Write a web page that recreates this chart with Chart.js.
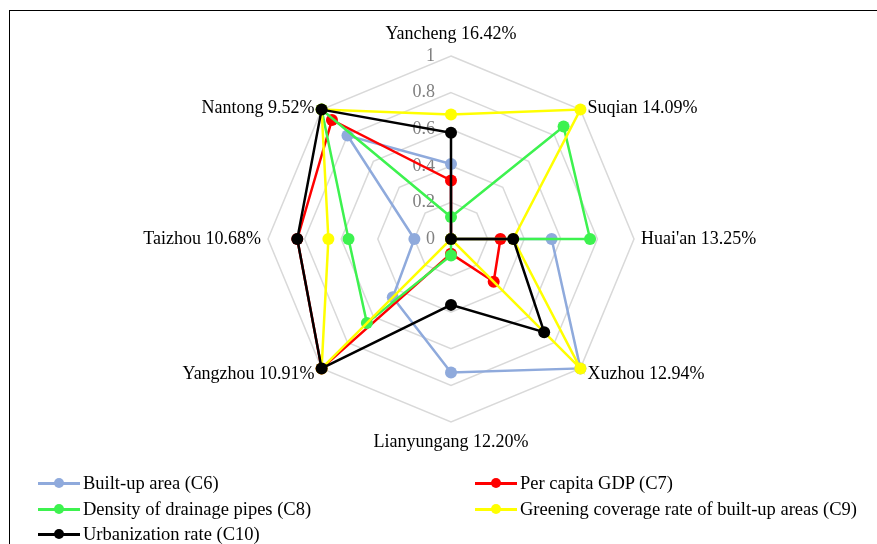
<!DOCTYPE html>
<html lang="en">
<head>
  <meta charset="UTF-8">
  <title>Radar of city indicators</title>
  <script src="https://cdn.jsdelivr.net/npm/chart.js"></script>
  <style>
    html, body { margin: 0; padding: 0; background: #fff; overflow: hidden; }
    body { width: 877px; height: 544px; position: relative; font-family: "Liberation Serif", serif; }
    .frame { position: absolute; left: 9px; top: 10px; width: 900px; height: 600px; border: 1.5px solid #000; }
    #chartBox { position: absolute; left: 0; top: 0; width: 877px; height: 544px; }
    .legend-item { position: absolute; height: 20px; line-height: 20px; font-size: 18.5px; color: #000; white-space: nowrap; }
    .legend-item .swatch { position: absolute; left: 0; top: 9px; width: 42px; height: 2.5px; }
    .legend-item .dot { position: absolute; left: 16px; top: 5px; width: 10px; height: 10px; border-radius: 50%; }
    .legend-item .txt { position: absolute; left: 45px; top: 0; }
  </style>
</head>
<body>
  <div class="frame"></div>
  <div id="chartBox"><canvas id="radar" width="877" height="544"></canvas></div>
  <div id="legend"></div>

  <script>
    // axes, clockwise from the top
    const cities = ['Yancheng 16.42%', 'Suqian 14.09%', "Huai'an 13.25%", 'Xuzhou 12.94%',
                    'Lianyungang 12.20%', 'Yangzhou 10.91%', 'Taizhou 10.68%', 'Nantong 9.52%'];
    const tickLabels = ['0', '0.2', '0.4', '0.6', '0.8', '1'];

    const builtUpArea  = [0.41, 0,    0.55, 1.00, 0.73, 0.45, 0.20, 0.80];
    const gdpPerCapita = [0.32, 0,    0.27, 0.33, 0.08, 1.00, 0.84, 0.92];
    const drainage     = [0.12, 0.87, 0.76, 0,    0.09, 0.65, 0.56, 1.00];
    const greening     = [0.68, 1.00, 0.34, 1.00, 0,    1.00, 0.67, 1.00];
    const urbanization = [0.58, 0,    0.34, 0.72, 0.36, 1.00, 0.84, 1.00];

    const seriesNames = ['Built-up area (C6)', 'Per capita GDP (C7)', 'Density of drainage pipes (C8)',
                         'Greening coverage rate of built-up areas (C9)', 'Urbanization rate (C10)'];
    const seriesColors = ['#8faadc', '#ff0000', '#3df24f', '#ffff00', '#000000'];
    const seriesData = [builtUpArea, gdpPerCapita, drainage, greening, urbanization];

    // tick numbers and city names drawn under the lines, like the original
    const labelPlugin = {
      id: 'labelPlugin',
      beforeDatasetsDraw(chart) {
        const s = chart.scales.r;
        const ctx = chart.ctx;
        ctx.save();
        ctx.font = '18px "Liberation Serif"';
        ctx.fillStyle = '#808080';
        ctx.textAlign = 'right';
        ctx.textBaseline = 'middle';
        tickLabels.forEach(t => {
          const d = s.getDistanceFromCenterForValue(parseFloat(t));
          ctx.fillText(t, s.xCenter - 16, s.yCenter - d);
        });

        ctx.fillStyle = '#000';
        ctx.font = '18px "Liberation Serif"';
        cities.forEach((c, i) => {
          const p = s.getPointPosition(i, s.drawingArea);
          const dx = p.x - s.xCenter, dy = p.y - s.yCenter;
          if (Math.abs(dx) < 1) {
            ctx.textAlign = 'center';
            ctx.textBaseline = 'alphabetic';
            ctx.fillText(c, p.x, dy < 0 ? p.y - 17 : p.y + 25);
          } else {
            ctx.textAlign = dx > 0 ? 'left' : 'right';
            ctx.textBaseline = 'middle';
            const y = Math.abs(dy) < 1 ? p.y : (dy < 0 ? p.y - 1 : p.y + 6);
            ctx.fillText(c, p.x + (dx > 0 ? 7 : -7), y);
          }
        });
        ctx.restore();
      }
    };

    const ctx = document.getElementById('radar').getContext('2d');
    new Chart(ctx, {
      type: 'radar',
      data: {
        labels: cities,
        datasets: seriesData.map((d, i) => ({
          label: seriesNames[i],
          data: d,
          borderColor: seriesColors[i],
          backgroundColor: seriesColors[i],
          pointBackgroundColor: seriesColors[i],
          pointBorderColor: seriesColors[i],
          borderWidth: 2.5,
          pointRadius: 6,
          pointBorderWidth: 0,
          fill: false,
          tension: 0,
          order: seriesData.length - i
        }))
      },
      options: {
        responsive: false,
        animation: false,
        layout: { padding: { left: 268, right: 243, top: 56, bottom: 122 } },
        plugins: { legend: { display: false }, tooltip: { enabled: false } },
        scales: {
          r: {
            min: 0,
            max: 1,
            ticks: { stepSize: 0.2, display: false },
            grid: { color: '#d9d9d9', lineWidth: 1.5 },
            angleLines: { display: false },
            pointLabels: { display: false }
          }
        }
      },
      plugins: [labelPlugin]
    });

    // legend in two columns, like the original
    const legendSpots = [[38, 473], [475, 473], [38, 499], [475, 499], [38, 524]];
    const legend = document.getElementById('legend');
    seriesNames.forEach((name, i) => {
      const item = document.createElement('div');
      item.className = 'legend-item';
      item.style.left = legendSpots[i][0] + 'px';
      item.style.top = legendSpots[i][1] + 'px';
      item.innerHTML = '<span class="swatch" style="background:' + seriesColors[i] + '"></span>' +
        '<span class="dot" style="background:' + seriesColors[i] + '"></span>' +
        '<span class="txt">' + name + '</span>';
      legend.appendChild(item);
    });
  </script>
</body>
</html>
